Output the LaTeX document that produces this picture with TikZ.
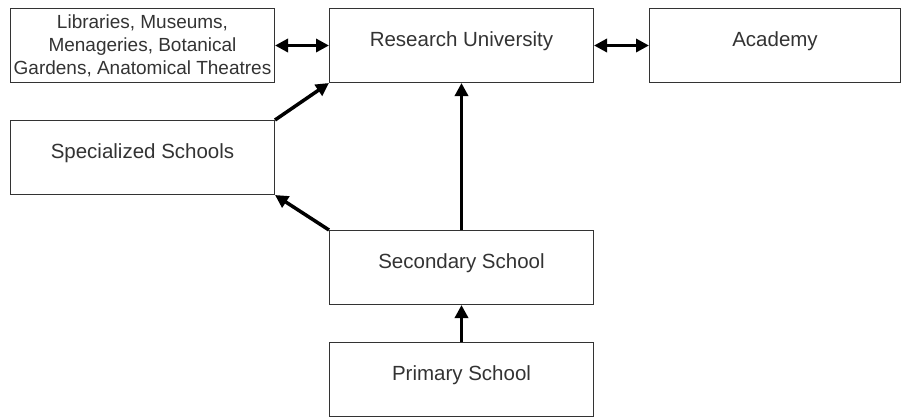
\documentclass[tikz,border=0pt]{standalone}
\usepackage{fontspec}
\setmainfont{Liberation Sans}
\usetikzlibrary{arrows.meta}
\begin{document}
\begin{tikzpicture}[x=1pt,y=-1pt,
  box/.style={draw=black!80,line width=1pt,minimum width=264pt,minimum height=74pt,inner sep=0pt,anchor=north west,text=black!80},
  unit/.style={box,font=\fontsize{20.5}{23}\selectfont,text height=15pt,text depth=12.6pt},
  link/.style={line width=3.5pt,-{Triangle[length=13pt,width=13pt]}},
  both/.style={line width=3.5pt,{Triangle[length=13pt,width=13pt]}-{Triangle[length=13pt,width=13pt]}}]
\useasboundingbox (0,0) rectangle (902,416);

\node[box,align=center,font=\fontsize{19}{23}\selectfont] (lib) at (10,8) {Libraries, Museums,\\Menageries, Botanical\\Gardens, Anatomical Theatres};
\node[unit] (uni) at (329,8) {Research University};
\node[unit,minimum width=251pt] (acad) at (649,8) {Academy};
\node[unit] (spec) at (10,120) {Specialized Schools};
\node[unit] (sec) at (329,230) {Secondary School};
\node[unit] (prim) at (329,342) {Primary School};

\draw[both] (lib) -- (uni);
\draw[both] (uni) -- (acad);
\draw[link] (spec.north east) -- (uni.south west);
\draw[link] (sec.north west) -- (spec.south east);
\draw[link] (sec) -- (uni);
\draw[link] (prim) -- (sec);

\end{tikzpicture}
\end{document}
